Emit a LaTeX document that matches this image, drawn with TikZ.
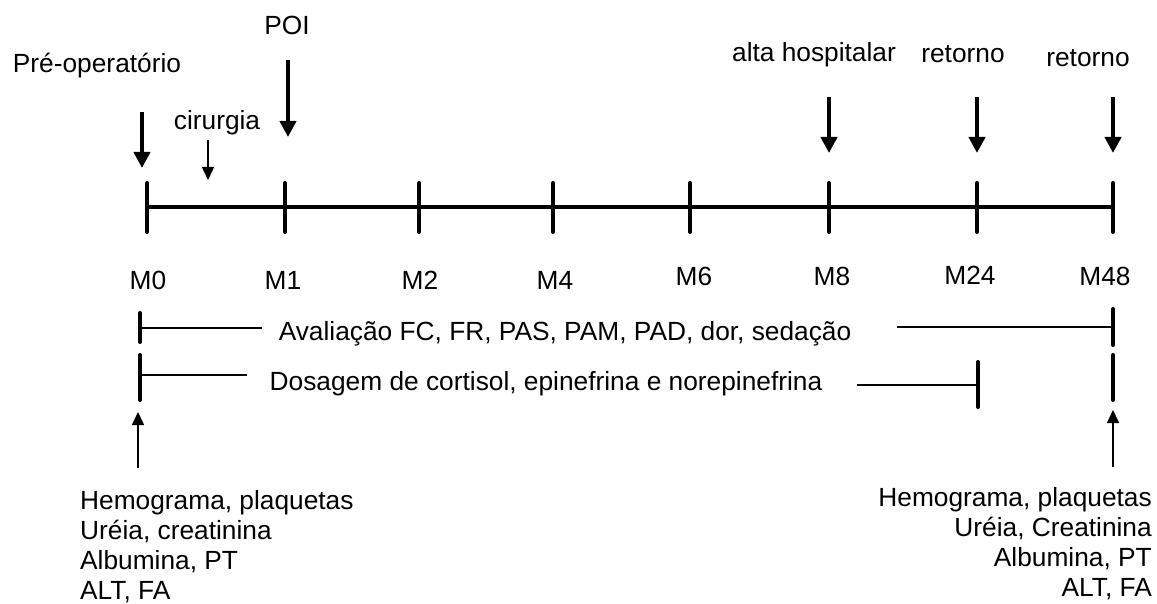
\documentclass[tikz,border=0pt]{standalone}
\usepackage{fontspec}
\setmainfont{Liberation Sans}
\usetikzlibrary{arrows.meta}
\begin{document}
\begin{tikzpicture}[x=1pt,y=-1pt,
  lbl/.style={font=\fontsize{26.3}{30}\selectfont, inner sep=0pt, anchor=base},
  blk/.style={font=\fontsize{26.3}{30}\selectfont, inner sep=0pt},
  axisline/.style={line width=4pt},
  tk/.style={line width=4pt, line cap=round},
  bigarrow/.style={line width=4pt, -{Triangle[width=16pt,length=16pt]}},
  thinarrow/.style={line width=1.5pt, -{Triangle[width=12pt,length=13pt]}},
  rangeline/.style={line width=1.5pt},
]
\useasboundingbox (0,0) rectangle (1157,604);

% timeline
\coordinate (ax0) at (147,207);
\coordinate (ax1) at (1113,207);
\draw[axisline] (ax0) -- (ax1);
\foreach \n/\x in {0/147,1/285,2/419,4/553,6/690,8/829,24/977,48/1113} {
  \coordinate (T\n a) at (\x,183);
  \coordinate (T\n b) at (\x,232);
  \draw[tk] (T\n a) -- (T\n b);
}

% M labels
\node[lbl] (m0) at (148,290) {M0};
\node[lbl] (m1) at (283,290) {M1};
\node[lbl] (m2) at (420,290) {M2};
\node[lbl] (m4) at (555,290) {M4};
\node[lbl] (m6) at (694,285) {M6};
\node[lbl] (m8) at (832,285) {M8};
\node[lbl] (m24) at (970,284) {M24};
\node[lbl] (m48) at (1105,285) {M48};

% top labels
\node[lbl] (pre) at (97,73) {Pré-operatório};
\node[lbl] (cir) at (217,130) {cirurgia};
\node[lbl] (poi) at (287,35) {POI};
\node[lbl] (alta) at (814,62) {alta hospitalar};
\node[lbl] (ret1) at (963,63) {retorno};
\node[lbl] (ret2) at (1088,67) {retorno};

% top arrows
\coordinate (preA) at (142,112); \coordinate (preB) at (142,168);
\draw[bigarrow] (preA) -- (preB);
\coordinate (cirA) at (208,140); \coordinate (cirB) at (208,180);
\draw[thinarrow] (cirA) -- (cirB);
\coordinate (poiA) at (288,60); \coordinate (poiB) at (288,137);
\draw[bigarrow] (poiA) -- (poiB);
\coordinate (altaA) at (829,97); \coordinate (altaB) at (829,153);
\draw[bigarrow] (altaA) -- (altaB);
\coordinate (ret1A) at (977,97); \coordinate (ret1B) at (977,153);
\draw[bigarrow] (ret1A) -- (ret1B);
\coordinate (ret2A) at (1113,97); \coordinate (ret2B) at (1113,153);
\draw[bigarrow] (ret2A) -- (ret2B);

% row 1: Avaliacao
\coordinate (r1La) at (140,313); \coordinate (r1Lb) at (140,342);
\draw[tk] (r1La) -- (r1Lb);
\coordinate (r1L) at (140,328); \coordinate (r1Le) at (262,328);
\draw[rangeline] (r1L) -- (r1Le);
\node[lbl] (aval) at (565,340) {Avaliação FC, FR, PAS, PAM, PAD, dor, sedação};
\coordinate (r1Rs) at (897,327); \coordinate (r1R) at (1113,327);
\draw[rangeline] (r1Rs) -- (r1R);
\coordinate (r1Ra) at (1113,309); \coordinate (r1Rb) at (1113,345);
\draw[tk] (r1Ra) -- (r1Rb);

% row 2: Dosagem
\coordinate (r2La) at (140,355); \coordinate (r2Lb) at (140,400);
\draw[tk] (r2La) -- (r2Lb);
\coordinate (r2L) at (140,375); \coordinate (r2Le) at (247,375);
\draw[rangeline] (r2L) -- (r2Le);
\node[lbl] (dos) at (546,390) {Dosagem de cortisol, epinefrina e norepinefrina};
\coordinate (r2Rs) at (857,385); \coordinate (r2R) at (978,385);
\draw[rangeline] (r2Rs) -- (r2R);
\coordinate (r2Ra) at (978,362); \coordinate (r2Rb) at (978,407);
\draw[tk] (r2Ra) -- (r2Rb);
\coordinate (r2Xa) at (1113,355); \coordinate (r2Xb) at (1113,400);
\draw[tk] (r2Xa) -- (r2Xb);

% bottom arrows
\coordinate (blA) at (138,468); \coordinate (blB) at (138,412);
\draw[thinarrow] (blA) -- (blB);
\coordinate (brA) at (1113,467); \coordinate (brB) at (1113,410);
\draw[thinarrow] (brA) -- (brB);

% bottom blocks
\node[blk, anchor=north west, align=left] (labL) at (80,490)
  {Hemograma, plaquetas\\Uréia, creatinina\\Albumina, PT\\ALT, FA};
\node[blk, anchor=north east, align=right] (labR) at (1152,487)
  {Hemograma, plaquetas\\Uréia, Creatinina\\Albumina, PT\\ALT, FA};
\end{tikzpicture}
\end{document}
